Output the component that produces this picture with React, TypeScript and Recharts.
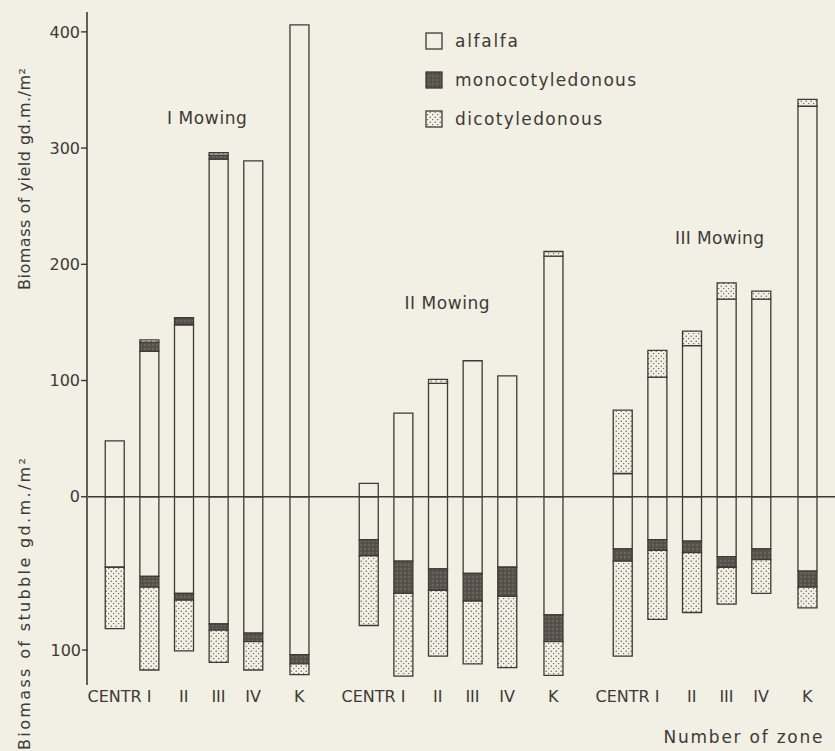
import {
  Bar,
  BarChart,
  Legend,
  ReferenceDot,
  ReferenceLine,
  XAxis,
  YAxis,
} from 'recharts';

const INK = '#3e3a35';
const PAPER = '#f2efe4';
const FONT = '"DejaVu Sans", sans-serif';

const MOWINGS = ['I Mowing', 'II Mowing', 'III Mowing'];
const ZONES = ['CENTR', 'I', 'II', 'III', 'IV', 'K'];
const SERIES = ['alfalfa', 'monocotyledonous', 'dicotyledonous'];

// biomass of yield, g d.m./m2 — one row per mowing, one value per zone
const YIELD_ALFALFA = [
  [48, 125, 148, 290.5, 289, 406],
  [11.5, 72, 97.5, 117, 104, 207],
  [20, 103, 130, 170, 170, 336],
];
const YIELD_MONO = [
  [0, 8, 6, 3.5, 0, 0],
  [0, 0, 0, 0, 0, 0],
  [0, 0, 0, 0, 0, 0],
];
const YIELD_DICOT = [
  [0, 2, 0, 2, 0, 0],
  [0, 0, 3.5, 0, 0, 4],
  [54.5, 23, 12.5, 14, 7, 6],
];

// biomass of stubble, g d.m./m2 (drawn below zero)
const STUBBLE_ALFALFA = [
  [46, 52, 63, 83, 89, 103],
  [28, 42, 47, 50, 46, 77],
  [34, 28, 29, 39, 34, 48.5],
];
const STUBBLE_MONO = [
  [0, 7, 4.5, 4, 5.5, 6],
  [10.5, 21, 14, 18, 19, 17.5],
  [8, 7, 7.5, 7, 7, 10.5],
];
const STUBBLE_DICOT = [
  [40, 54, 33, 21, 18.5, 7],
  [45.5, 54, 43, 41, 46.5, 22],
  [62, 45, 39, 24, 22, 13.5],
];

const YIELD_TICKS = [0, 100, 200, 300, 400];
const STUBBLE_TICKS = [-100];

// zones sit 3 slots apart, K one slot further, mowings 22 slots apart
const GROUP_STRIDE = 22;
const zoneSlot = (g: number, i: number) =>
  g * GROUP_STRIDE + i * 3 + (i === ZONES.length - 1 ? 1 : 0);

type Row = {
  slot: number;
  zone: string;
  yA: number;
  yM: number;
  yD: number;
  sA: number;
  sM: number;
  sD: number;
};

const rows: Row[] = MOWINGS.flatMap((_, g) =>
  ZONES.map((zone, i) => ({
    slot: zoneSlot(g, i),
    zone,
    yA: YIELD_ALFALFA[g][i],
    yM: YIELD_MONO[g][i],
    yD: YIELD_DICOT[g][i],
    sA: -STUBBLE_ALFALFA[g][i],
    sM: -STUBBLE_MONO[g][i],
    sD: -STUBBLE_DICOT[g][i],
  })),
);

const zoneBySlot = new Map(rows.map((r) => [r.slot, r.zone]));

const FILLS = [PAPER, 'url(#mono)', 'url(#dots)'];
const BAR_W = 19;

const VerticalTitle = ({ text, cy, len }: { text: string; cy: number; len: number }) => (
  <text
    x={30}
    y={cy}
    transform={`rotate(-90 30 ${cy})`}
    textAnchor="middle"
    fill={INK}
    fontSize={16}
    fontFamily={FONT}
    textLength={len}
    lengthAdjust="spacing"
  >
    {text}
  </text>
);

const PlainText = ({ x, y, text, len }: { x: number; y: number; text: string; len: number }) => (
  <text
    x={x}
    y={y + 6}
    textAnchor="middle"
    fill={INK}
    fontSize={17}
    fontFamily={FONT}
    textLength={len}
    lengthAdjust="spacing"
  >
    {text}
  </text>
);

const LEGEND_LEN = [63, 181, 147];

function LegendBox() {
  return (
    <svg width={240} height={110} style={{ display: 'block', overflow: 'visible' }}>
      {SERIES.map((name, i) => (
        <g key={name} transform={`translate(0, ${i * 39})`}>
          <rect x={2} y={5} width={16} height={16} fill={FILLS[i]} stroke={INK} strokeWidth={1.3} />
          <text
            x={31}
            y={19}
            fill={INK}
            fontSize={17}
            fontFamily={FONT}
            textLength={LEGEND_LEN[i]}
            lengthAdjust="spacing"
          >
            {name}
          </text>
        </g>
      ))}
    </svg>
  );
}

const MOWING_LABELS = [
  { slot: 8, value: 326, len: 80 },
  { slot: 28.8, value: 166.7, len: 85 },
  { slot: 52.4, value: 222.5, len: 89 },
];

export default function App() {
  return (
    <div style={{ position: 'absolute', left: 0, top: 0, width: 835, height: 751, background: PAPER }}>
      <BarChart
        width={835}
        height={751}
        data={rows}
        barGap={-BAR_W}
        margin={{ top: 12, right: 0, left: 86, bottom: 36 }}
      >
        <defs>
          <pattern id="dots" width={5} height={5} patternUnits="userSpaceOnUse">
            <rect width={5} height={5} fill={PAPER} />
            <circle cx={1.2} cy={1.2} r={0.65} fill={INK} />
            <circle cx={3.7} cy={3.6} r={0.6} fill={INK} />
          </pattern>
          <pattern id="mono" width={4} height={4} patternUnits="userSpaceOnUse">
            <rect width={4} height={4} fill="#57524c" />
            <circle cx={1} cy={1} r={0.7} fill="#8a847b" />
            <circle cx={3} cy={3} r={0.5} fill="#433f3a" />
          </pattern>
        </defs>
        <XAxis
          dataKey="slot"
          type="number"
          domain={[-2.3, 62.4]}
          allowDataOverflow
          ticks={rows.map((r) => r.slot)}
          interval={0}
          tickFormatter={(v: number) => zoneBySlot.get(v) ?? ''}
          axisLine={false}
          tickLine={false}
          tickSize={0}
          tickMargin={6}
          height={30}
          tick={{ fill: INK, fontSize: 16, fontFamily: FONT }}
          label={{ content: () => <PlainText x={743} y={737} text="Number of zone" len={159} /> }}
        />
        <YAxis
          yAxisId="y"
          width={1}
          domain={[-162, 417.1]}
          allowDataOverflow
          ticks={YIELD_TICKS}
          interval={0}
          tickSize={6}
          tickMargin={1}
          axisLine={{ stroke: INK, strokeWidth: 1.6 }}
          tickLine={{ stroke: INK, strokeWidth: 1.4 }}
          tick={{ fill: INK, fontSize: 16, fontFamily: FONT }}
          label={{
            content: () => <VerticalTitle text="Biomass of yield  gd.m./m²" cy={179} len={222} />,
          }}
        />
        <YAxis
          yAxisId="s"
          width={1}
          domain={[-122.8, 316.2]}
          allowDataOverflow
          ticks={STUBBLE_TICKS}
          interval={0}
          tickSize={6}
          tickMargin={1}
          axisLine={false}
          tickLine={{ stroke: INK, strokeWidth: 1.4 }}
          tickFormatter={(v: number) => String(Math.abs(v))}
          tick={{ fill: INK, fontSize: 16, fontFamily: FONT }}
          label={{
            content: () => <VerticalTitle text="Biomass of stubble  gd.m./m²" cy={604} len={292} />,
          }}
        />
        <ReferenceLine yAxisId="y" y={0} stroke={INK} strokeWidth={1.5} />
        <Legend
          layout="vertical"
          align="center"
          verticalAlign="middle"
          wrapperStyle={{ left: 424, top: 28, width: 240, height: 110 }}
          content={() => <LegendBox />}
        />
        {MOWING_LABELS.map((m, g) => (
          <ReferenceDot
            key={MOWINGS[g]}
            yAxisId="y"
            x={m.slot}
            y={m.value}
            r={0}
            fill="none"
            stroke="none"
            label={{ content: (p: any) => <PlainText x={p.viewBox.x} y={p.viewBox.y} text={MOWINGS[g]} len={m.len} /> }}
          />
        ))}
        <Bar yAxisId="y" dataKey="yA" stackId="yield" barSize={BAR_W} fill={FILLS[0]} stroke={INK} strokeWidth={1.3} isAnimationActive={false} />
        <Bar yAxisId="y" dataKey="yM" stackId="yield" barSize={BAR_W} fill={FILLS[1]} stroke={INK} strokeWidth={1.3} isAnimationActive={false} />
        <Bar yAxisId="y" dataKey="yD" stackId="yield" barSize={BAR_W} fill={FILLS[2]} stroke={INK} strokeWidth={1.3} isAnimationActive={false} />
        <Bar yAxisId="s" dataKey="sA" stackId="stubble" barSize={BAR_W} fill={FILLS[0]} stroke={INK} strokeWidth={1.3} isAnimationActive={false} />
        <Bar yAxisId="s" dataKey="sM" stackId="stubble" barSize={BAR_W} fill={FILLS[1]} stroke={INK} strokeWidth={1.3} isAnimationActive={false} />
        <Bar yAxisId="s" dataKey="sD" stackId="stubble" barSize={BAR_W} fill={FILLS[2]} stroke={INK} strokeWidth={1.3} isAnimationActive={false} />
      </BarChart>
    </div>
  );
}
